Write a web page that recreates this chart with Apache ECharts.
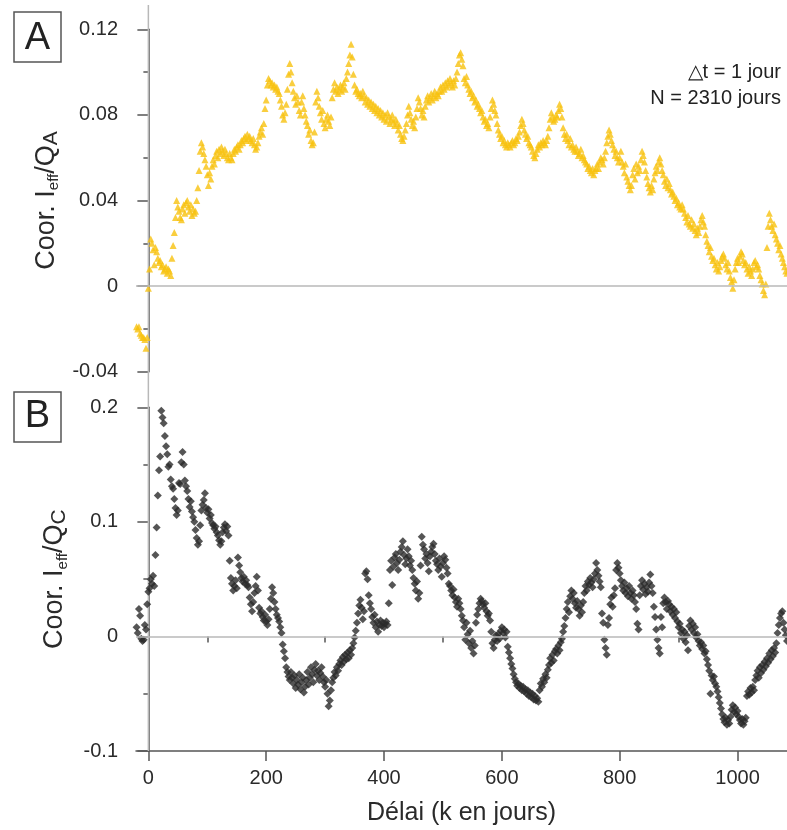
<!DOCTYPE html>
<html><head><meta charset="utf-8">
<script src="https://cdn.jsdelivr.net/npm/echarts@6/dist/echarts.min.js"></script>
<style>html,body{margin:0;padding:0;background:#fff}#c{width:787px;height:830px}</style>
</head><body><div id="c"></div><script>
// Lags k (days): regular grid, Δt = 1 day, sampled every 2 days
const LAG_START = -20, LAG_STEP = 2;
const X_MIN = -21, X_MAX = 1084;
const xTicks = [0, 200, 400, 600, 800, 1000];
const xMinorTicks = [100, 300, 500, 700, 900];
const yTicksA = [-0.04, 0, 0.04, 0.08, 0.12];
const yTicksB = [-0.1, 0, 0.1, 0.2];

// Panel A : Coor. Ieff/QA
const corrA = [
-0.019,-0.020,-0.019,-0.022,-0.023,-0.024,-0.024,-0.025,-0.029,-0.024,
-0.001,0.008,0.022,0.020,0.017,0.010,0.018,0.016,0.013,0.011,
0.012,0.009,0.010,0.007,0.008,0.009,0.006,0.008,0.007,0.005,
0.013,0.019,0.025,0.032,0.040,0.037,0.035,0.032,0.031,0.036,
0.038,0.034,0.039,0.040,0.037,0.035,0.038,0.033,0.036,0.034,
0.035,0.040,0.046,0.054,0.063,0.067,0.065,0.062,0.059,0.056,
0.052,0.047,0.053,0.050,0.056,0.059,0.057,0.061,0.063,0.060,
0.064,0.062,0.065,0.063,0.061,0.064,0.062,0.060,0.059,0.062,
0.060,0.059,0.062,0.064,0.063,0.065,0.066,0.064,0.066,0.068,
0.067,0.069,0.070,0.068,0.071,0.069,0.070,0.068,0.067,0.069,
0.066,0.064,0.065,0.067,0.070,0.072,0.074,0.071,0.076,0.083,
0.087,0.094,0.097,0.096,0.094,0.095,0.093,0.094,0.092,0.093,
0.091,0.090,0.087,0.084,0.080,0.078,0.081,0.085,0.092,0.099,
0.104,0.100,0.095,0.091,0.088,0.085,0.089,0.086,0.082,0.080,
0.086,0.089,0.083,0.080,0.077,0.075,0.071,0.073,0.068,0.066,
0.067,0.072,0.086,0.091,0.088,0.084,0.081,0.078,0.082,0.076,
0.074,0.078,0.080,0.077,0.075,0.079,0.088,0.092,0.095,0.091,
0.093,0.090,0.092,0.094,0.091,0.093,0.095,0.092,0.097,0.100,
0.104,0.108,0.113,0.107,0.099,0.094,0.091,0.092,0.090,0.089,
0.090,0.088,0.091,0.089,0.086,0.088,0.085,0.087,0.084,0.086,
0.083,0.085,0.082,0.084,0.081,0.083,0.080,0.082,0.079,0.081,
0.078,0.080,0.077,0.081,0.079,0.076,0.078,0.080,0.077,0.075,
0.078,0.076,0.073,0.075,0.071,0.069,0.068,0.070,0.073,0.076,
0.080,0.084,0.081,0.078,0.075,0.077,0.074,0.079,0.083,0.088,
0.086,0.083,0.080,0.082,0.079,0.084,0.087,0.089,0.086,0.088,
0.090,0.087,0.089,0.091,0.088,0.090,0.089,0.091,0.093,0.091,
0.094,0.092,0.095,0.093,0.096,0.094,0.097,0.095,0.093,0.096,
0.094,0.097,0.100,0.104,0.108,0.109,0.106,0.103,0.097,0.095,
0.098,0.094,0.092,0.090,0.091,0.088,0.089,0.086,0.087,0.084,
0.085,0.083,0.081,0.082,0.079,0.077,0.078,0.075,0.076,0.074,
0.079,0.083,0.087,0.085,0.082,0.080,0.076,0.073,0.071,0.069,
0.070,0.067,0.068,0.066,0.065,0.067,0.066,0.065,0.067,0.068,
0.066,0.067,0.069,0.068,0.070,0.072,0.075,0.078,0.076,0.073,
0.071,0.069,0.070,0.067,0.066,0.065,0.063,0.061,0.060,0.062,
0.064,0.066,0.065,0.067,0.066,0.068,0.067,0.066,0.068,0.070,
0.074,0.078,0.081,0.079,0.077,0.078,0.080,0.079,0.082,0.085,
0.083,0.079,0.074,0.071,0.069,0.071,0.068,0.066,0.069,0.065,
0.066,0.064,0.063,0.065,0.063,0.061,0.062,0.064,0.060,0.061,
0.059,0.058,0.057,0.055,0.056,0.054,0.053,0.055,0.052,0.054,
0.055,0.057,0.055,0.058,0.060,0.059,0.057,0.060,0.063,0.067,
0.070,0.073,0.071,0.068,0.066,0.064,0.061,0.063,0.060,0.058,
0.060,0.063,0.058,0.056,0.053,0.057,0.051,0.049,0.047,0.045,
0.047,0.052,0.055,0.050,0.057,0.053,0.056,0.054,0.059,0.063,
0.061,0.058,0.054,0.051,0.048,0.046,0.044,0.047,0.045,0.050,
0.053,0.056,0.054,0.058,0.060,0.057,0.054,0.052,0.049,0.047,
0.050,0.046,0.048,0.045,0.043,0.044,0.042,0.040,0.041,0.038,
0.039,0.037,0.036,0.038,0.036,0.034,0.032,0.030,0.033,0.029,
0.028,0.031,0.027,0.029,0.026,0.024,0.027,0.025,0.028,0.031,
0.033,0.030,0.028,0.024,0.021,0.019,0.016,0.018,0.014,0.012,
0.013,0.010,0.008,0.011,0.007,0.009,0.012,0.014,0.015,0.013,
0.010,0.008,0.011,0.007,0.004,0.002,-0.001,0.003,0.008,0.011,
0.013,0.011,0.014,0.016,0.015,0.012,0.010,0.011,0.008,0.006,
0.009,0.007,0.005,0.008,0.011,0.012,0.009,0.010,0.008,0.005,
0.003,0.001,-0.002,-0.004,0.001,0.018,0.028,0.034,0.031,0.028,
0.026,0.029,0.024,0.022,0.020,0.017,0.019,0.015,0.013,0.011,
0.009,0.007,0.006
];

// Panel B : Coor. Ieff/QC
const corrB = [
0.008,0.003,0.024,0.018,-0.002,-0.004,-0.003,0.010,0.006,0.028,
0.039,0.042,0.050,0.046,0.053,0.044,0.071,0.095,0.123,0.145,
0.157,0.197,0.191,0.186,0.175,0.166,0.159,0.148,0.150,0.137,
0.131,0.129,0.120,0.112,0.106,0.110,0.134,0.133,0.152,0.161,
0.150,0.136,0.131,0.127,0.120,0.113,0.118,0.109,0.104,0.100,
0.093,0.086,0.080,0.083,0.097,0.110,0.115,0.119,0.125,0.112,
0.108,0.111,0.103,0.106,0.099,0.097,0.094,0.096,0.091,0.088,
0.084,0.080,0.083,0.091,0.095,0.098,0.092,0.096,0.088,0.066,
0.051,0.046,0.040,0.044,0.049,0.042,0.069,0.062,0.056,0.051,
0.048,0.052,0.046,0.049,0.045,0.043,0.034,0.028,0.022,0.030,
0.038,0.044,0.052,0.040,0.025,0.020,0.022,0.017,0.014,0.019,
0.013,0.010,0.015,0.024,0.033,0.043,0.038,0.030,0.024,0.019,
0.016,0.013,0.008,0.003,-0.007,-0.013,-0.019,-0.027,-0.031,-0.035,
-0.038,-0.031,-0.036,-0.041,-0.034,-0.045,-0.038,-0.042,-0.033,-0.046,
-0.040,-0.036,-0.049,-0.044,-0.038,-0.031,-0.042,-0.036,-0.027,-0.033,
-0.040,-0.029,-0.024,-0.034,-0.030,-0.038,-0.032,-0.027,-0.035,-0.040,
-0.044,-0.038,-0.050,-0.061,-0.056,-0.047,-0.040,-0.036,-0.031,-0.034,
-0.027,-0.030,-0.024,-0.021,-0.025,-0.018,-0.022,-0.016,-0.020,-0.014,
-0.019,-0.012,-0.016,-0.010,-0.006,-0.001,0.005,0.012,0.020,0.027,
0.032,0.025,0.015,0.022,0.055,0.057,0.050,0.036,0.029,0.024,
0.017,0.012,0.019,0.008,0.013,0.004,0.010,0.014,0.009,0.012,
0.008,0.011,0.013,0.010,0.029,0.058,0.066,0.045,0.061,0.069,
0.072,0.064,0.058,0.067,0.074,0.078,0.083,0.071,0.063,0.068,
0.076,0.070,0.062,0.066,0.058,0.051,0.046,0.040,0.048,0.033,
0.038,0.062,0.087,0.080,0.076,0.068,0.072,0.064,0.057,0.070,
0.074,0.078,0.081,0.072,0.066,0.063,0.058,0.068,0.061,0.052,
0.064,0.070,0.067,0.060,0.055,0.046,0.044,0.040,0.036,0.041,
0.034,0.030,0.026,0.033,0.029,0.024,0.018,0.014,0.008,-0.003,
0.012,0.002,-0.006,0.005,-0.010,-0.004,-0.015,-0.008,0.012,0.019,
0.024,0.029,0.033,0.031,0.028,0.025,0.029,0.022,0.018,0.020,
0.014,0.004,-0.006,-0.010,-0.003,0.001,-0.004,0.002,-0.002,0.005,
0.008,0.003,0.006,-0.001,0.004,-0.009,-0.014,-0.019,-0.024,-0.028,
-0.033,-0.037,-0.040,-0.043,-0.041,-0.045,-0.043,-0.047,-0.044,-0.048,
-0.046,-0.050,-0.047,-0.052,-0.049,-0.053,-0.050,-0.055,-0.052,-0.056,
-0.054,-0.057,-0.047,-0.041,-0.044,-0.037,-0.040,-0.033,-0.036,-0.029,
-0.025,-0.019,-0.023,-0.016,-0.021,-0.013,-0.011,-0.015,-0.008,-0.012,
-0.005,-0.002,0.004,0.009,0.016,0.024,0.030,0.021,0.035,0.040,
0.033,0.038,0.029,0.025,0.031,0.024,0.018,0.027,0.021,0.030,
0.038,0.044,0.040,0.048,0.045,0.051,0.047,0.043,0.050,0.055,
0.064,0.058,0.053,0.048,0.043,0.020,0.012,-0.003,-0.010,-0.016,
0.010,0.016,0.028,0.034,0.026,0.036,0.042,0.058,0.064,0.060,
0.055,0.049,0.044,0.040,0.047,0.038,0.042,0.035,0.044,0.038,
0.033,0.040,0.036,0.030,0.024,0.011,0.006,0.036,0.044,0.049,
0.041,0.046,0.037,0.043,0.039,0.047,0.054,0.044,0.038,0.026,
0.017,0.006,-0.003,-0.010,-0.015,0.017,0.008,0.029,0.034,0.030,
0.024,0.031,0.028,0.022,0.026,0.019,0.024,0.016,0.021,0.013,
0.008,0.011,0.003,0.006,-0.002,0.004,-0.005,0.001,-0.012,0.009,
0.014,0.006,0.011,0.003,0.008,-0.001,0.002,-0.004,-0.008,-0.005,
-0.011,-0.008,-0.015,-0.013,-0.020,-0.025,-0.030,-0.050,-0.034,-0.038,
-0.035,-0.041,-0.044,-0.048,-0.053,-0.058,-0.063,-0.068,-0.072,-0.075,
-0.071,-0.077,-0.073,-0.076,-0.070,-0.064,-0.060,-0.066,-0.062,-0.068,
-0.065,-0.070,-0.073,-0.076,-0.072,-0.077,-0.074,-0.071,-0.052,-0.048,
-0.051,-0.045,-0.049,-0.044,-0.047,-0.038,-0.034,-0.030,-0.036,-0.027,
-0.032,-0.025,-0.029,-0.022,-0.026,-0.019,-0.023,-0.015,-0.020,-0.012,
-0.017,-0.010,-0.014,-0.006,0.003,0.010,0.016,0.020,0.022,0.012,
0.006,0.001,-0.004
];

const FONT = '"Liberation Sans", Arial, sans-serif';
const AXIS_COLOR = '#555';
const TEXT_COLOR = '#2a2a2a';
const ZERO_COLOR = '#b8b8b8';

const toPoints = arr => arr.map((v, i) => [LAG_START + i * LAG_STEP, v]);

const chart = echarts.init(document.getElementById('c'), null, {renderer: 'canvas'});

function yAxis(gridIndex, ticks, nameRich) {
  return {
    type: 'value', gridIndex: gridIndex,
    min: ticks[0], max: ticks[ticks.length - 1], interval: ticks[1] - ticks[0],
    axisLine: {show: true, lineStyle: {color: AXIS_COLOR, width: 1.5}},
    axisTick: {show: true, inside: false, length: 11, lineStyle: {color: AXIS_COLOR, width: 1.5}},
    minorTick: {show: true, splitNumber: 2, length: 5, lineStyle: {color: AXIS_COLOR, width: 1.5}},
    splitLine: {show: false}, minorSplitLine: {show: false},
    axisLabel: {margin: 18, fontSize: 20, color: TEXT_COLOR, fontFamily: FONT},
    name: nameRich, nameLocation: 'middle', nameGap: 66,
    nameTextStyle: {
      color: TEXT_COLOR, fontFamily: FONT,
      rich: {
        m: {fontSize: 27, lineHeight: 30, fontFamily: FONT, color: TEXT_COLOR},
        s: {fontSize: 15, lineHeight: 12, verticalAlign: 'bottom', fontFamily: FONT, color: TEXT_COLOR},
        q: {fontSize: 21, lineHeight: 24, verticalAlign: 'bottom', fontFamily: FONT, color: TEXT_COLOR}
      }
    }
  };
}

const option = {
  animation: false,
  backgroundColor: '#fff',
  grid: [
    {left: 136, right: 0, top: 29.3, height: 342.4, containLabel: false, outerBoundsMode: 'none'},
    {left: 136, right: 0, top: 407.3, height: 343.7, containLabel: false, outerBoundsMode: 'none'}
  ],
  xAxis: [
    {type: 'value', gridIndex: 0, min: X_MIN, max: X_MAX, show: false},
    {
      type: 'value', gridIndex: 1, min: X_MIN, max: X_MAX, position: 'bottom',
      axisLine: {show: true, onZero: false, lineStyle: {color: AXIS_COLOR, width: 1.5}},
      axisTick: {show: true, length: 10, customValues: xTicks, lineStyle: {color: AXIS_COLOR, width: 1.5}},
      axisLabel: {customValues: xTicks, margin: 17, fontSize: 20, color: TEXT_COLOR, fontFamily: FONT,
        formatter: v => String(v)},
      splitLine: {show: false},
      name: 'Délai (k en jours)', nameLocation: 'middle', nameGap: 50,
      nameTextStyle: {fontSize: 25, color: TEXT_COLOR, fontFamily: FONT}
    },
    {
      type: 'value', gridIndex: 1, min: X_MIN, max: X_MAX, position: 'bottom', offset: 0,
      axisLine: {show: false},
      axisTick: {show: true, length: 6, customValues: xMinorTicks, lineStyle: {color: AXIS_COLOR, width: 1.5}},
      axisLabel: {show: false}, splitLine: {show: false}
    }
  ],
  yAxis: [
    yAxis(0, yTicksA, '{m|Coor. I}{s|eff}{m|/Q}{q|A}'),
    yAxis(1, yTicksB, '{m|Coor. I}{s|eff}{m|/Q}{q|C}')
  ],
  series: [
    {
      type: 'scatter', xAxisIndex: 0, yAxisIndex: 0,
      data: toPoints(corrA), symbol: 'triangle', symbolSize: 7,
      itemStyle: {color: '#f7c20f'},
      markLine: {silent: true, symbol: 'none', label: {show: false}, animation: false,
        lineStyle: {color: ZERO_COLOR, width: 1.5, type: 'solid'}, data: [{yAxis: 0}]},
      z: 3
    },
    {
      type: 'scatter', xAxisIndex: 1, yAxisIndex: 1,
      data: toPoints(corrB), symbol: 'diamond', symbolSize: 8,
      itemStyle: {color: '#2b2b2b'},
      markLine: {silent: true, symbol: 'none', label: {show: false}, animation: false,
        lineStyle: {color: ZERO_COLOR, width: 1.5, type: 'solid'}, data: [{yAxis: 0}]},
      z: 3
    }
  ]
};
chart.setOption(option);

const x0 = chart.convertToPixel({xAxisIndex: 1}, 0);
const yBottom = chart.convertToPixel({yAxisIndex: 1}, yTicksB[0]);
chart.setOption({
  graphic: [
    {type: 'line', z: 1, silent: true, shape: {x1: x0, y1: 5, x2: x0, y2: yBottom},
      style: {stroke: ZERO_COLOR, lineWidth: 1.5}},
    {type: 'rect', shape: {x: 14, y: 12, width: 47, height: 50}, style: {fill: 'none', stroke: AXIS_COLOR, lineWidth: 1.5}},
    {type: 'text', x: 37.5, y: 39, style: {text: 'A', fontSize: 38, fontFamily: FONT, fill: '#222', align: 'center', verticalAlign: 'middle'}},
    {type: 'rect', shape: {x: 14, y: 392, width: 47, height: 50}, style: {fill: 'none', stroke: AXIS_COLOR, lineWidth: 1.5}},
    {type: 'text', x: 37.5, y: 417, style: {text: 'B', fontSize: 38, fontFamily: FONT, fill: '#222', align: 'center', verticalAlign: 'middle'}},
    {type: 'text', x: 781, y: 72, style: {text: '△t = 1 jour', fontSize: 20, fontFamily: FONT, fill: '#222', align: 'right', verticalAlign: 'middle'}},
    {type: 'text', x: 781, y: 98, style: {text: 'N = 2310 jours', fontSize: 20, fontFamily: FONT, fill: '#222', align: 'right', verticalAlign: 'middle'}}
  ]
});
</script></body></html>
